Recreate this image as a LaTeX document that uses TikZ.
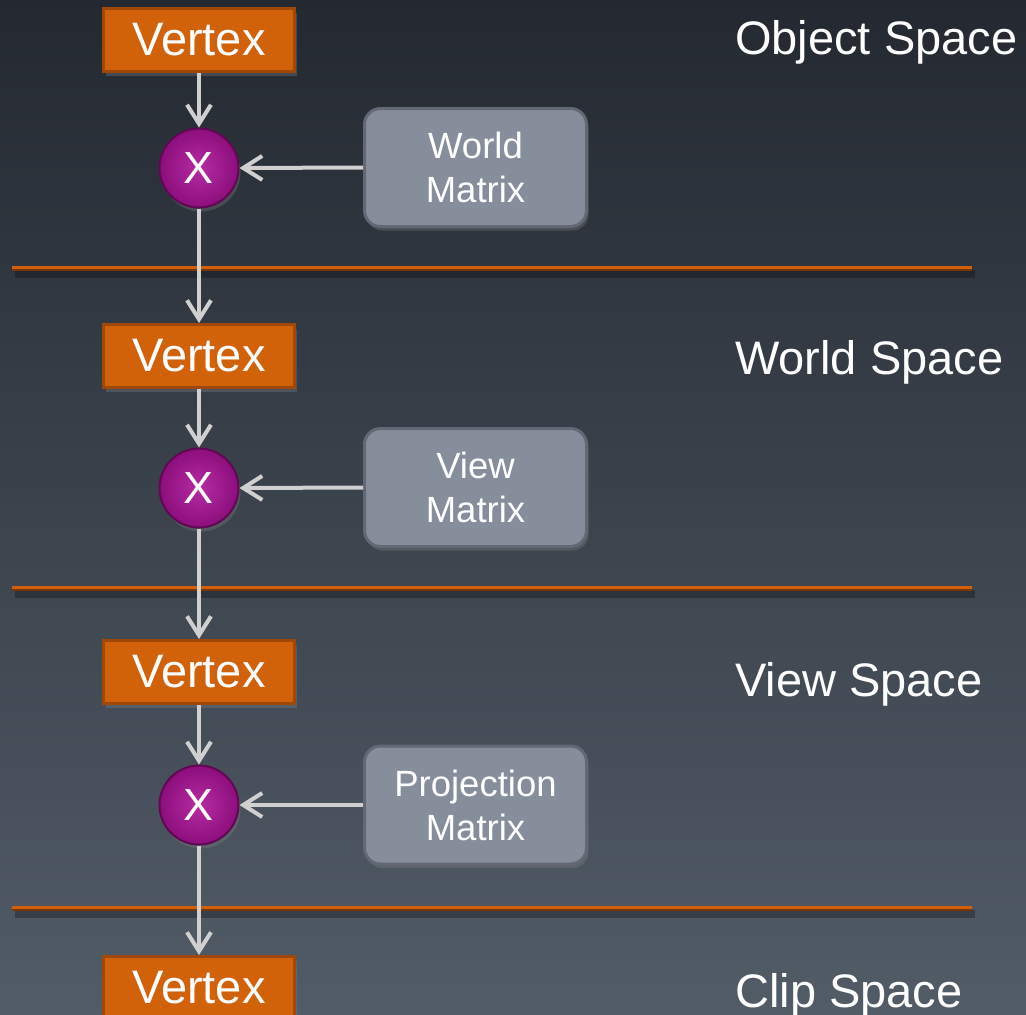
\documentclass[tikz,border=0pt]{standalone}
\usepackage{fontspec}
\setmainfont{Liberation Sans}
\usetikzlibrary{arrows.meta,shadows}
\definecolor{bgtop}{RGB}{36,41,49}
\definecolor{bgbot}{RGB}{82,92,103}
\definecolor{vfill}{RGB}{210,98,10}
\definecolor{vdraw}{RGB}{160,72,8}
\definecolor{cin}{RGB}{182,44,164}
\definecolor{cout}{RGB}{140,14,124}
\definecolor{cdraw}{RGB}{96,8,84}
\definecolor{mfill}{RGB}{134,142,155}
\definecolor{mdraw}{RGB}{98,105,116}
\definecolor{arrcol}{RGB}{208,208,208}
\definecolor{sepor}{RGB}{208,96,12}
\definecolor{sepdk}{RGB}{118,54,10}
\tikzset{
  vbox/.style={rectangle, fill=vfill, draw=vdraw, line width=3pt,
    minimum width=191pt, minimum height=63pt, inner sep=0pt,
    text=white, font=\fontsize{47}{52}\selectfont,
    drop shadow={opacity=0.35, shadow xshift=2pt, shadow yshift=-4pt}},
  xcirc/.style={circle, shading=radial, inner color=cin, outer color=cout,
    draw=cdraw, line width=2pt, minimum size=79pt, inner sep=0pt,
    text=white, font=\fontsize{45}{50}\selectfont,
    drop shadow={opacity=0.35, shadow xshift=2pt, shadow yshift=-4pt}},
  mbox/.style={rectangle, rounded corners=16pt, fill=mfill, draw=mdraw, line width=3pt,
    minimum width=222pt, minimum height=118pt, inner sep=0pt, align=center,
    text=white, font=\fontsize{36.5}{44}\selectfont,
    drop shadow={opacity=0.35, shadow xshift=2pt, shadow yshift=-4pt}},
  slabel/.style={anchor=base west, inner sep=0pt, text=white,
    font=\fontsize{47}{52}\selectfont},
  arr/.style={draw=arrcol, line width=4pt,
    -{Straight Barb[length=19pt,width=24pt,line width=4pt]}},
}
\newcommand{\sepline}[1]{%
  \fill[black,opacity=0.28] (15,#1+2) rectangle (975,#1+10);
  \fill[sepdk] (12,#1-2.5) rectangle (972,#1+3);
  \fill[sepor] (12,#1-2.5) rectangle (972,#1+0.5);
}
\begin{document}
\begin{tikzpicture}[x=1pt,y=-1pt]
\useasboundingbox (0,0) rectangle (1026,1015);
\shade[top color=bgtop, bottom color=bgbot] (0,0) rectangle (1026,1015);

\sepline{268}
\sepline{588}
\sepline{908}

\node[vbox] (v1) at (199,40) {Vertex};
\node[vbox] (v2) at (199,356) {Vertex};
\node[vbox] (v3) at (199,672) {Vertex};
\node[vbox] (v4) at (199,988) {Vertex};

\node[xcirc] (c1) at (199,168) {X};
\node[xcirc] (c2) at (199,488) {X};
\node[xcirc] (c3) at (199,805) {X};

\node[mbox] (m1) at (475.5,167.5) {World\\Matrix};
\node[mbox] (m2) at (475.5,487.5) {View\\Matrix};
\node[mbox] (m3) at (475.5,805) {Projection\\Matrix};

\node[slabel] (l1) at (735,54) {Object Space};
\node[slabel] (l2) at (735,374) {World Space};
\node[slabel] (l3) at (735,696) {View Space};
\node[slabel] (l4) at (735,1007) {Clip Space};

\draw[arr] (v1.south) -- (c1.north);
\draw[arr] (c1.south) -- (v2.north);
\draw[arr] (v2.south) -- (c2.north);
\draw[arr] (c2.south) -- (v3.north);
\draw[arr] (v3.south) -- (c3.north);
\draw[arr] (c3.south) -- (v4.north);
\draw[arr] (m1.west) -- (c1.east);
\draw[arr] (m2.west) -- (c2.east);
\draw[arr] (m3.west) -- (c3.east);
\end{tikzpicture}
\end{document}
